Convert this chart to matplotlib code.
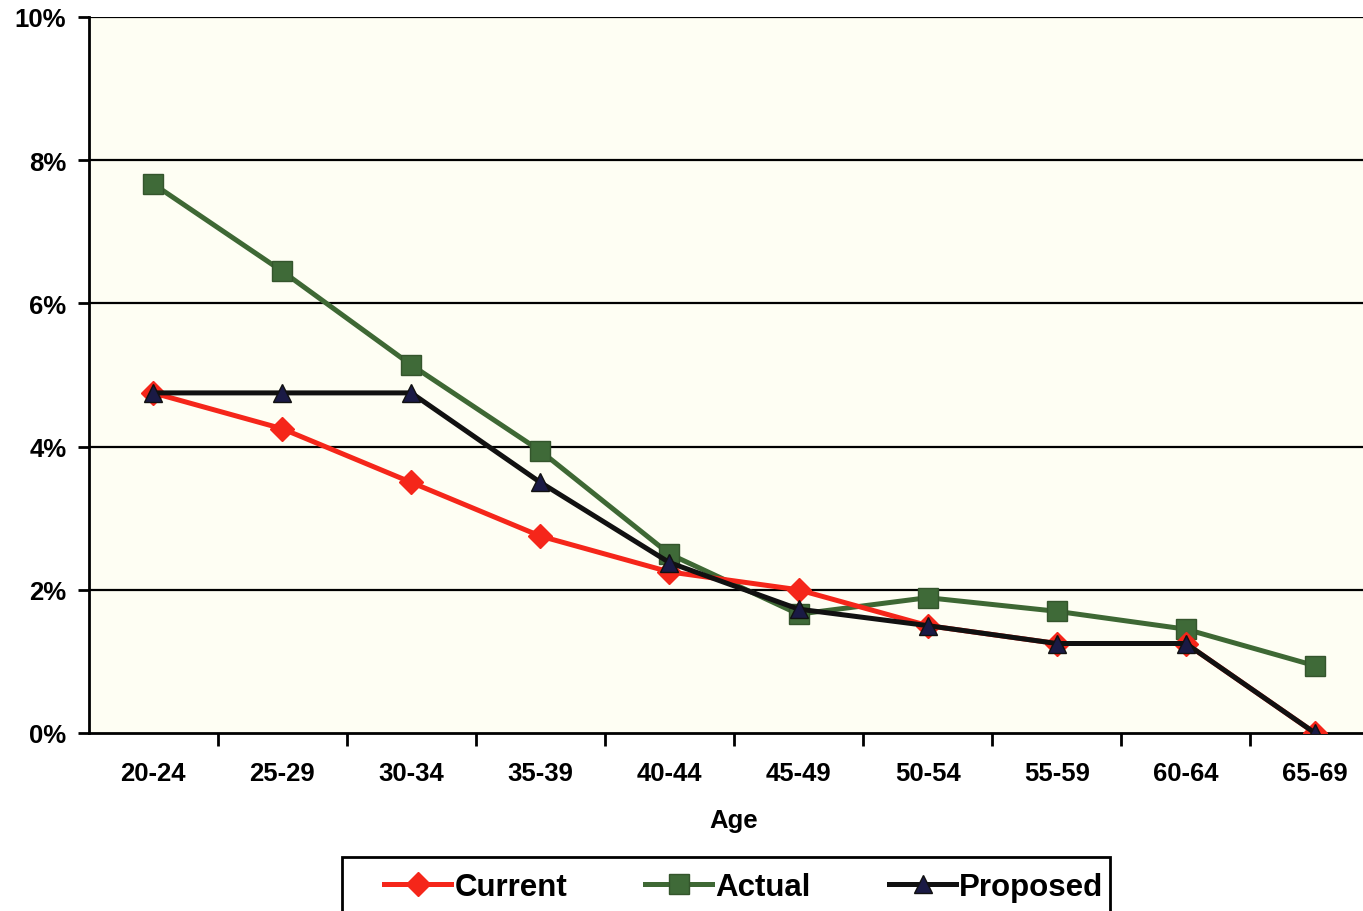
import matplotlib.pyplot as plt
from matplotlib.patches import Rectangle
import numpy as np

ages = ["20-24", "25-29", "30-34", "35-39", "40-44", "45-49",
        "50-54", "55-59", "60-64", "65-69"]
current = [4.75, 4.25, 3.5, 2.75, 2.25, 2.0, 1.5, 1.25, 1.25, 0.0]
actual = [7.67, 6.45, 5.14, 3.94, 2.5, 1.66, 1.89, 1.7, 1.45, 0.94]
proposed = [4.75, 4.75, 4.75, 3.5, 2.38, 1.73, 1.5, 1.25, 1.25, 0.0]
yticks = [0, 2, 4, 6, 8, 10]

plt.rcParams['font.family'] = ['Liberation Sans', 'DejaVu Sans']
plt.rcParams['font.weight'] = 'bold'

W, H = 1363, 912
fig = plt.figure(figsize=(W / 100, H / 100), dpi=100)
ax = fig.add_axes([88.5 / W, 1 - 734 / H, 1291 / W, 716 / H])
ax.set_facecolor('#fefef3')

x = np.arange(len(ages))
ax.plot(x, current, color='#f5261a', lw=3.6, marker='D', ms=12,
        mfc='#f5261a', mec='#f5261a', label='Current', zorder=3)
ax.plot(x, actual, color='#3e6834', lw=3.6, marker='s', ms=15,
        mfc='#3f6a38', mec='#34552c', label='Actual', zorder=2)
ax.plot(x, proposed, color='#111111', lw=3.6, marker='^', ms=13,
        mfc='#1a1a45', mec='#111111', label='Proposed', zorder=4)

ax.set_xlim(-0.5, 9.5)
ax.set_ylim(0, 10)
ax.set_yticks(yticks)
ax.set_yticklabels([f"{v}%" for v in yticks])
for v in yticks[1:]:
    ax.axhline(v, color='black', lw=1.6, zorder=1)

ax.set_xticks(x)
ax.set_xticklabels(ages)
ax.set_xticks(x[:-1] + 0.5, minor=True)
ax.tick_params(axis='x', which='major', length=0, pad=20, labelsize=18.5)
ax.tick_params(axis='x', which='minor', length=9, width=2, direction='out')
ax.tick_params(axis='y', length=8, width=2, direction='out', labelsize=18.5, pad=8)

for s in ['left', 'bottom']:
    ax.spines[s].set_linewidth(2)
ax.spines['top'].set_visible(False)
ax.spines['right'].set_visible(False)

ax.set_xlabel("Age", fontsize=18.5, fontweight='bold', labelpad=17)

# legend box drawn separately so the entries can sit further in from the left edge
fig.patches.append(Rectangle((342 / W, -0.02), (1110 - 342) / W, (912 - 858) / H + 0.02,
                             transform=fig.transFigure, facecolor='white',
                             edgecolor='black', lw=2, zorder=0))
fig.legend(loc='center left', bbox_to_anchor=(384 / W, 1 - 888 / H),
           ncol=3, fontsize=22.5, frameon=False,
           handlelength=2.15, columnspacing=2.5,
           handletextpad=0.1, borderpad=0, borderaxespad=0)

fig.savefig("out.png", dpi=100)
